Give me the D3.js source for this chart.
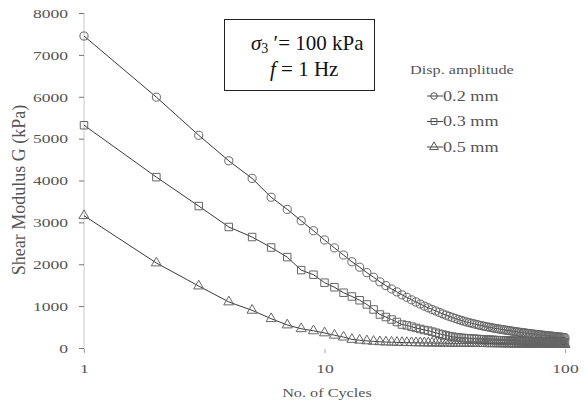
<!DOCTYPE html>
<html><head><meta charset="utf-8">
<script src="https://cdn.jsdelivr.net/npm/d3@7"></script>
<style>body{margin:0;background:#fff}svg{display:block}text{font-family:"Liberation Serif","Times New Roman",serif}</style>
</head><body><svg id="c" width="584" height="406"></svg>
<script>
const yTicks = [0,1000,2000,3000,4000,5000,6000,7000,8000];
const xTicks = [1,10,100];
const seriesNames = ["0.2 mm","0.3 mm","0.5 mm"];
const g02 = [7450,5990,5080,4470,4050,3600,3310,3040,2800,2580,
 2390,2220,2060,1930,1800,1690,1580,1490,1410,1340,
 1270,1210,1150,1100,1050,1000,960,920,885,850,
 815,785,755,730,705,680,660,640,620,605,
 590,575,560,545,535,520,510,500,490,480,
 470,462,455,447,440,432,425,418,412,405,
 398,392,386,380,375,370,365,360,355,350,
 345,340,336,332,328,324,320,316,312,308,
 305,302,298,295,292,289,286,283,280,277,
 274,271,268,265,262,259,256,253,250,248];
const g03 = [5320,4080,3390,2890,2650,2400,2170,1860,1750,1560,
 1450,1320,1230,1140,1040,920,800,740,680,620,
 560,540,510,480,455,430,415,390,365,340,
 320,300,285,270,260,250,244,238,232,228,
 224,220,216,212,208,205,202,199,196,193,
 190,188,186,184,182,180,178,176,175,174,
 172,171,170,168,167,166,165,164,163,162,
 161,160,159,158,157,156,155,154,153,152,
 151,150,150,149,148,147,147,146,145,145,
 144,143,143,142,142,141,141,140,140,140];
const g05 = [3160,2030,1480,1100,900,700,550,460,410,360,
 305,260,205,185,170,158,148,142,138,134,
 131,128,126,124,122,120,119,118,117,116,
 115,114,113,112,111,110,110,109,108,108,
 107,106,106,105,105,104,104,103,103,102,
 102,101,101,100,100,99,99,98,98,97,
 97,96,96,95,95,95,94,94,93,93,
 93,92,92,91,91,91,90,90,90,89,
 89,89,88,88,88,87,87,87,86,86,
 86,85,85,85,84,84,84,83,83,83];
const series = [g02,g03,g05];
const shapes = [d3.symbolCircle, d3.symbolSquare, d3.symbolTriangle];
const SX = 1.3; // horizontal stretch of the reference lettering

const svg = d3.select("#c");
const x = d3.scaleLog().domain([1,100]).range([84,565]);
const y = d3.scaleLinear().domain([0,8000]).range([348,13]);

function stretchedText(px, py, size, anchor, str, fill){
  return svg.append("text").attr("transform",`translate(${px},${py}) scale(${SX},1)`)
    .attr("text-anchor",anchor).attr("font-size",size).attr("fill",fill||"#555").text(str);
}

// y axis
const ya = svg.append("g").attr("transform","translate(84,0)")
  .call(d3.axisLeft(y).tickValues(yTicks).tickSize(5).tickPadding(10).tickFormat(d3.format("d")));
ya.select(".domain").attr("stroke","#c8c8c8").attr("d","M0,13V352");
ya.selectAll(".tick line").attr("stroke","#777");
ya.selectAll("text").attr("font-size",13.5).attr("fill","#555")
  .attr("x",-16/SX).attr("transform",`scale(${SX},1)`);

// x axis
const xa = svg.append("g").attr("transform","translate(0,349)")
  .call(d3.axisBottom(x).tickValues(xTicks).tickSize(4).tickPadding(10).tickFormat(d3.format("d")));
xa.select(".domain").remove();
xa.selectAll(".tick line").attr("stroke","#aaa");
xa.selectAll("text").attr("font-size",13.5).attr("fill","#555").attr("transform",`scale(${SX},1)`);

stretchedText(327,397,12.5,"middle","No. of Cycles");
svg.append("text").attr("transform","translate(25,190) rotate(-90)").attr("text-anchor","middle")
  .attr("font-size",18).attr("fill","#555").text("Shear Modulus G (kPa)");

const line = d3.line().x((d,i)=>x(i+1)).y(d=>y(d));
series.forEach((s,k)=>{
  svg.append("path").datum(s).attr("d",line).attr("fill","none").attr("stroke","#3a3a3a").attr("stroke-width",1);
  const sym = d3.symbol().type(shapes[k]).size(k===2?44:k===1?56:52);
  svg.append("g").selectAll("path").data(s).join("path")
    .attr("transform",(d,i)=>`translate(${x(i+1)},${y(d)})`)
    .attr("d",sym).attr("fill","none").attr("stroke","#666").attr("stroke-width",1);
});

// annotation box
svg.append("rect").attr("x",224.5).attr("y",19.5).attr("width",150).attr("height",71)
  .attr("fill","#fff").attr("stroke","#222").attr("stroke-width",1);
const t1 = svg.append("text").attr("x",251).attr("y",50).attr("font-size",21).attr("fill","#111");
t1.append("tspan").attr("font-style","italic").text("σ");
t1.append("tspan").attr("font-size",14).attr("dy",3).text("3");
t1.append("tspan").attr("dy",-3).text(" ′= 100 kPa");
const t2 = svg.append("text").attr("x",270).attr("y",76).attr("font-size",21).attr("fill","#111");
t2.append("tspan").attr("font-style","italic").text("f");
t2.append("tspan").text(" = 1 Hz");

// legend
stretchedText(410,74,12.5,"start","Disp. amplitude");
seriesNames.forEach((n,k)=>{
  const ly = 96 + k*25.5;
  svg.append("line").attr("x1",427).attr("x2",443).attr("y1",ly).attr("y2",ly).attr("stroke","#444");
  svg.append("path").attr("transform",`translate(434,${ly})`)
    .attr("d",d3.symbol().type(shapes[k]).size(34)).attr("fill","none").attr("stroke","#555");
  stretchedText(443,ly+4.5,14,"start",n);
});
</script></body></html>
